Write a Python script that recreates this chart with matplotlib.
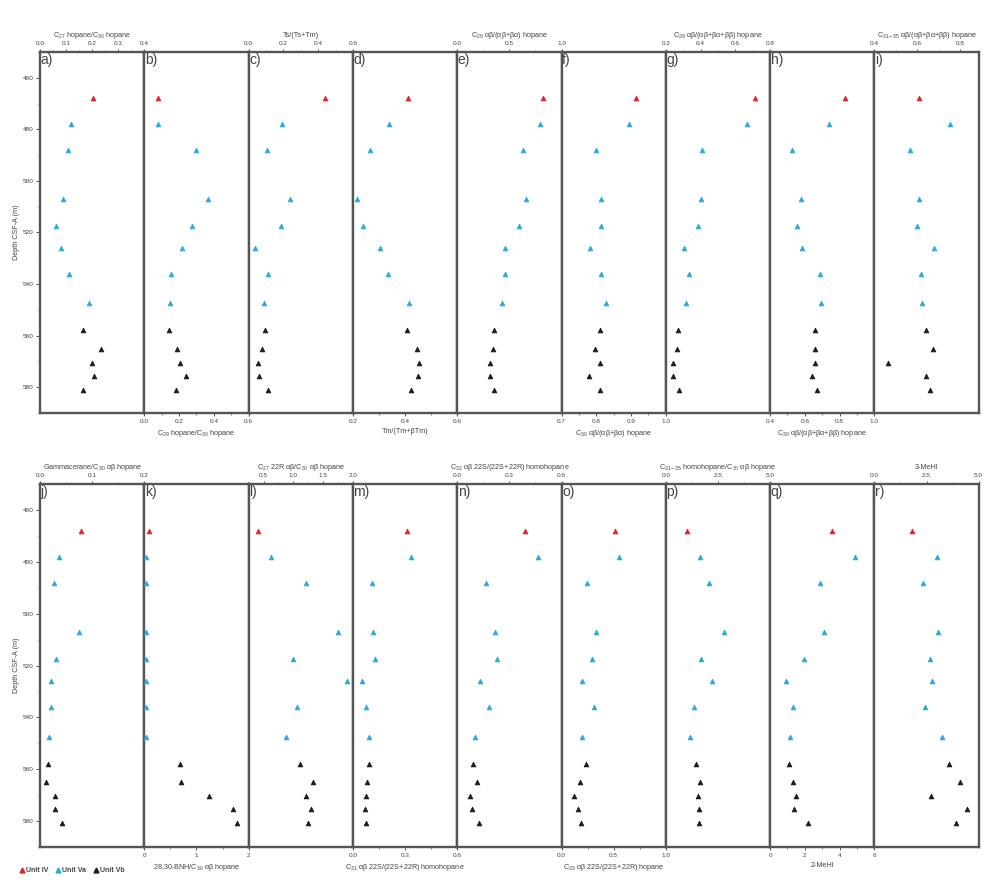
import matplotlib
matplotlib.use("Agg")
import matplotlib.pyplot as plt
from matplotlib.lines import Line2D
from matplotlib.ticker import MultipleLocator, FormatStrFormatter

plt.rcParams['font.family'] = ['Liberation Sans', 'DejaVu Sans']
plt.rcParams['mathtext.fontset'] = 'custom'
plt.rcParams['mathtext.rm'] = 'Liberation Sans'
plt.rcParams['mathtext.it'] = 'Liberation Sans:italic'

# depth of samples (m CSF-A) and the unit of each one
depth = [468, 478, 488, 507, 517.5, 526, 536, 547.5, 558, 565, 570.5, 575.5, 581]
unit = ['IV', 'Va', 'Va', 'Va', 'Va', 'Va', 'Va', 'Va', 'Vb', 'Vb', 'Vb', 'Vb', 'Vb']

# top row
c27_c30 = [0.202, 0.118, 0.109, 0.087, 0.061, 0.081, 0.111, 0.189, 0.166, 0.234, 0.198, 0.207, 0.166]
c29_c30 = [0.079, 0.081, 0.297, 0.364, 0.276, 0.219, 0.155, 0.146, 0.142, 0.190, 0.205, 0.240, 0.184]
ts_tstm = [0.439, 0.192, 0.105, 0.236, 0.186, 0.036, 0.111, 0.086, 0.094, 0.078, 0.052, 0.058, 0.111]
tm_tmbtm = [0.413, 0.340, 0.264, 0.215, 0.239, 0.305, 0.335, 0.416, 0.406, 0.445, 0.455, 0.450, 0.422]
c29_ab_ba = [0.821, 0.792, 0.633, 0.658, 0.597, 0.454, 0.463, 0.425, 0.355, 0.348, 0.319, 0.316, 0.351]
c30_ab_ba = [0.915, 0.893, 0.798, 0.813, 0.813, 0.782, 0.813, 0.828, 0.810, 0.796, 0.812, 0.779, 0.812]
c29_ab_all = [0.712, 0.668, 0.409, 0.403, 0.384, 0.304, 0.332, 0.319, 0.271, 0.263, 0.242, 0.242, 0.275]
c30_ab_all = [0.832, 0.739, 0.525, 0.575, 0.555, 0.584, 0.688, 0.695, 0.661, 0.661, 0.661, 0.642, 0.667]
c3135_ab_all = [0.606, 0.753, 0.565, 0.606, 0.599, 0.677, 0.617, 0.623, 0.640, 0.672, 0.462, 0.639, 0.659]

# bottom row
gam_c30 = [0.078, 0.037, 0.027, 0.075, 0.031, 0.021, 0.021, 0.017, 0.015, 0.011, 0.029, 0.029, 0.042]
bnh_c30 = [0.09, 0.04, 0.04, 0.04, 0.04, 0.04, 0.04, 0.04, 0.69, 0.70, 1.25, 1.71, 1.78]
c27r_c30 = [0.41, 0.63, 1.22, 1.75, 1.00, 1.90, 1.06, 0.87, 1.12, 1.33, 1.22, 1.30, 1.25]
c31_22s = [0.313, 0.332, 0.107, 0.113, 0.130, 0.050, 0.078, 0.090, 0.090, 0.083, 0.077, 0.071, 0.075]
c32_22s = [0.390, 0.466, 0.165, 0.217, 0.228, 0.130, 0.182, 0.100, 0.090, 0.113, 0.075, 0.086, 0.125]
c33_22s = [0.513, 0.548, 0.245, 0.333, 0.294, 0.197, 0.313, 0.197, 0.236, 0.177, 0.119, 0.158, 0.190]
homo_c30 = [1.02, 1.64, 2.07, 2.79, 1.69, 2.22, 1.36, 1.16, 1.45, 1.64, 1.55, 1.59, 1.58]
mehi2 = [3.55, 4.86, 2.86, 3.09, 1.93, 0.89, 1.29, 1.12, 1.06, 1.31, 1.50, 1.35, 2.20]
mehi3 = [1.80, 3.01, 2.33, 3.06, 2.67, 2.77, 2.43, 3.25, 3.59, 4.11, 2.72, 4.43, 3.93]

unit_colors = {'IV': '#e8202a', 'Va': '#2aa9e0', 'Vb': '#1a1a1a'}
unit_names = ['IV', 'Va', 'Vb']

# letter, axis label, values, xlim, major step, minor step, tick format, axis side
top_row = [
    ('a)', 'C$_{27}$ hopane/C$_{30}$ hopane', c27_c30, (0, 0.4), 0.1, 0.05, '%.1f', 'top'),
    ('b)', 'C$_{29}$ hopane/C$_{30}$ hopane', c29_c30, (0, 0.6), 0.2, 0.1, '%.1f', 'bottom'),
    ('c)', 'Ts/(Ts+Tm)', ts_tstm, (0, 0.6), 0.2, 0.1, '%.1f', 'top'),
    ('d)', 'Tm/(Tm+βTm)', tm_tmbtm, (0.2, 0.6), 0.2, 0.1, '%.1f', 'bottom'),
    ('e)', 'C$_{29}$ αβ/(αβ+βα) hopane', c29_ab_ba, (0, 1.0), 0.5, 0.25, '%.1f', 'top'),
    ('f)', 'C$_{30}$ αβ/(αβ+βα) hopane', c30_ab_ba, (0.7, 1.0), 0.1, 0.05, '%.1f', 'bottom'),
    ('g)', 'C$_{29}$ αβ/(αβ+βα+ββ) hopane', c29_ab_all, (0.2, 0.8), 0.2, 0.1, '%.1f', 'top'),
    ('h)', 'C$_{30}$ αβ/(αβ+βα+ββ) hopane', c30_ab_all, (0.4, 1.0), 0.2, 0.1, '%.1f', 'bottom'),
    ('i)', 'C$_{31-35}$ αβ/(αβ+βα+ββ) hopane', c3135_ab_all, (0.4, 0.887), 0.2, 0.1, '%.1f', 'top'),
]
bottom_row = [
    ('j)', 'Gammacerane/C$_{30}$ αβ hopane', gam_c30, (0, 0.2), 0.1, 0.05, '%.1f', 'top'),
    ('k)', '28,30-BNH/C$_{30}$ αβ hopane', bnh_c30, (0, 2), 1, 0.5, '%d', 'bottom'),
    ('l)', 'C$_{27}$ 22R αβ/C$_{30}$ αβ hopane', c27r_c30, (0.25, 2.0), 0.5, 0.25, '%.1f', 'top'),
    ('m)', 'C$_{31}$ αβ 22S/(22S+22R) homohopane', c31_22s, (0, 0.6), 0.3, 0.15, '%.1f', 'bottom'),
    ('n)', 'C$_{32}$ αβ 22S/(22S+22R) homohopane', c32_22s, (0, 0.6), 0.3, 0.15, '%.1f', 'top'),
    ('o)', 'C$_{33}$ αβ 22S/(22S+22R) hopane', c33_22s, (0, 1.0), 0.5, 0.25, '%.1f', 'bottom'),
    ('p)', 'C$_{31-35}$ homohopane/C$_{30}$ αβ hopane', homo_c30, (0, 5), 2.5, 1.25, '%.1f', 'top'),
    ('q)', '2-MeHI', mehi2, (0, 6), 2, 1, '%d', 'bottom'),
    ('r)', '3-MeHI', mehi3, (0, 5), 2.5, 1.25, '%.1f', 'top'),
]

W, H = 992, 884
fig = plt.figure(figsize=(W / 100, H / 100), dpi=100)

text_col = '#444444'
spine_col = '#555555'
panel_w = 104.3
rows = [(top_row, 52, 413), (bottom_row, 484.3, 846.7)]

for panels, y_top, y_bot in rows:
    for i, (letter, label, vals, xlim, step, mstep, fmt, side) in enumerate(panels):
        x0 = 40 + i * panel_w
        ax = fig.add_axes([x0 / W, 1 - y_bot / H, panel_w / W, (y_bot - y_top) / H])
        for u in unit_names:
            xs = [v for v, uu in zip(vals, unit) if uu == u]
            ys = [d for d, uu in zip(depth, unit) if uu == u]
            ax.plot(xs, ys, ls='none', marker='^', ms=3.5, color=unit_colors[u],
                    mec=unit_colors[u], mew=0.5, zorder=3)
        ax.set_xlim(*xlim)
        ax.set_ylim(590, 450)

        for sp in ax.spines.values():
            sp.set_color(spine_col)
            sp.set_linewidth(1.7)

        ax.xaxis.set_major_locator(MultipleLocator(step))
        ax.xaxis.set_minor_locator(MultipleLocator(mstep))
        ax.xaxis.set_major_formatter(FormatStrFormatter(fmt))
        if side == 'top':
            ax.xaxis.tick_top()
            ax.xaxis.set_label_position('top')
        else:
            ax.xaxis.tick_bottom()
        ax.tick_params(axis='x', which='major', labelsize=4.6, length=2.5, width=0.7,
                       colors=spine_col, labelcolor=text_col, pad=2)
        ax.tick_params(axis='x', which='minor', length=1.5, width=0.5, colors=spine_col)
        ax.set_xlabel(label, fontsize=5.2, color=text_col, labelpad=3)

        if i == 0:
            ax.yaxis.set_major_locator(MultipleLocator(20))
            ax.yaxis.set_minor_locator(MultipleLocator(10))
            ax.tick_params(axis='y', which='major', labelsize=4.6, length=3, width=0.7,
                           colors=spine_col, labelcolor=text_col, pad=1.5)
            ax.tick_params(axis='y', which='minor', length=1.5, width=0.5, colors=spine_col)
            ax.set_ylabel('Depth CSF-A (m)', fontsize=5.2, color=text_col, labelpad=2)
        else:
            ax.set_yticks([])

        ax.text(0.005, 0.997, letter, transform=ax.transAxes, ha='left', va='top',
                fontsize=10, color=text_col)

handles = [Line2D([], [], ls='none', marker='^', ms=3.5, color=unit_colors[u]) for u in unit_names]
fig.legend(handles, ['Unit ' + u for u in unit_names], loc='center left',
           bbox_to_anchor=(12 / W, 1 - 870.7 / H), ncol=3, frameon=False,
           prop={'size': 5, 'weight': 'bold'}, handletextpad=0.1, columnspacing=0.9,
           handlelength=1.0, labelcolor=text_col)

fig.savefig('out.png', dpi=100)
